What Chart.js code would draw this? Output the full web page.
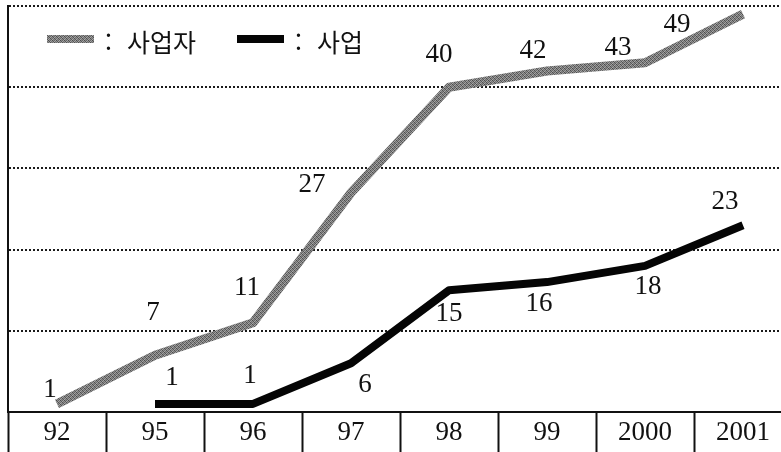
<!DOCTYPE html>
<html lang="ko">
<head>
<meta charset="utf-8">
<title>사업자 · 사업 추이</title>
<script src="https://cdn.jsdelivr.net/npm/chart.js@4/dist/chart.umd.min.js"></script>
<style>
  html, body { margin: 0; padding: 0; background: #fff; overflow: hidden; }
  #wrap { position: relative; width: 792px; height: 452px; }
</style>
</head>
<body>
<div id="wrap"><canvas id="c"></canvas></div>
<script>
// Years on the horizontal axis
const years = ['92', '95', '96', '97', '98', '99', '2000', '2001'];
// Number of operators (사업자) per year
const operators = [1, 7, 11, 27, 40, 42, 43, 49];
// Number of projects (사업) per year; none recorded for 92
const projects = [null, 1, 1, 6, 15, 16, 18, 23];
// Series names shown in the key
const seriesNames = ['사업자', '사업'];
// Value axis range and grid step
const yMin = 0, yMax = 50, yStep = 10;

// Where each value label sits relative to its point (dx, dy in px)
const operatorLabelShift = [[-7, -14], [-2, -42], [-6, -35], [-39, -8], [-10, -32], [-14, -20], [-27, -15], [-66, 11]];
const projectLabelShift = [null, [17, -26], [-3, -28], [14, 22], [0, 24], [-8, 22], [3, 21], [-18, -23]];

const canvas = document.getElementById('c');
const ctx2d = canvas.getContext('2d');

// Grainy grey fill for the operator line
function grainyGrey() {
  const tile = document.createElement('canvas');
  tile.width = 4; tile.height = 4;
  const g = tile.getContext('2d');
  const tones = ['#4a4a4a', '#8a8a8a', '#666666', '#a4a4a4',
                 '#929292', '#555555', '#a8a8a8', '#707070',
                 '#6c6c6c', '#a0a0a0', '#505050', '#8e8e8e',
                 '#aaaaaa', '#747474', '#888888', '#585858'];
  tones.forEach((t, i) => { g.fillStyle = t; g.fillRect(i % 4, Math.floor(i / 4), 1, 1); });
  return ctx2d.createPattern(tile, 'repeat');
}
const greyFill = grainyGrey();

const numFont = '27px "Liberation Serif", "DejaVu Serif", serif';
const krFont = '25px "Noto Sans CJK KR", "Noto Sans", sans-serif';

// Value labels next to each point
const valueLabels = {
  id: 'valueLabels',
  afterDatasetsDraw(chart) {
    const ctx = chart.ctx;
    ctx.save();
    ctx.font = numFont;
    ctx.fillStyle = '#111';
    ctx.textAlign = 'center';
    ctx.textBaseline = 'middle';
    chart.data.datasets.forEach((ds, di) => {
      const shifts = di === 0 ? operatorLabelShift : projectLabelShift;
      chart.getDatasetMeta(di).data.forEach((pt, i) => {
        const v = ds.data[i];
        if (v === null || v === undefined || !shifts[i]) return;
        ctx.fillText(String(v), pt.x + shifts[i][0], pt.y + shifts[i][1]);
      });
    });
    ctx.restore();
  }
};

// Key drawn inside the plot, top-left
const insideKey = {
  id: 'insideKey',
  afterDraw(chart) {
    const ctx = chart.ctx;
    const startX = [47, 237];
    const swatchW = 47, swatchH = 8, midY = 39;
    ctx.save();
    chart.data.datasets.forEach((ds, i) => {
      const x = startX[i];
      ctx.fillStyle = ds.borderColor;
      ctx.fillRect(x, midY - swatchH / 2, swatchW, swatchH);
      ctx.fillStyle = '#111';
      ctx.font = krFont;
      ctx.textBaseline = 'middle';
      ctx.textAlign = 'left';
      ctx.fillText(':', x + swatchW + 11, midY + 3);
      ctx.fillText(ds.label, x + swatchW + 33, midY + 3);
    });
    ctx.restore();
  }
};

new Chart(canvas, {
  type: 'line',
  data: {
    labels: years,
    datasets: [
      {
        label: seriesNames[0],
        data: operators,
        borderColor: greyFill,
        borderWidth: 9,
        borderJoinStyle: 'round',
        pointRadius: 0,
        tension: 0,
        fill: false
      },
      {
        label: seriesNames[1],
        data: projects,
        borderColor: '#050505',
        borderWidth: 8,
        borderJoinStyle: 'round',
        pointRadius: 0,
        tension: 0,
        fill: false
      }
    ]
  },
  options: {
    responsive: true,
    maintainAspectRatio: false,
    animation: false,
    layout: { padding: { left: 8, top: 6, right: 0, bottom: 0 } },
    plugins: {
      legend: { display: false },
      tooltip: { enabled: false }
    },
    scales: {
      x: {
        offset: true,
        grid: {
          offset: true,
          drawOnChartArea: false,
          drawTicks: true,
          tickLength: 40,
          tickWidth: 2,
          tickColor: '#111',
          tickBorderDash: [],
          color: '#111'
        },
        border: { display: true, color: '#111', width: 2 },
        ticks: {
          font: { family: '"Liberation Serif", "DejaVu Serif", serif', size: 27 },
          color: '#111',
          padding: -35,
          maxRotation: 0,
          autoSkip: false
        },
        afterFit(scale) { scale.height = 40; }
      },
      y: {
        min: yMin,
        max: yMax,
        ticks: { display: false, stepSize: yStep },
        grid: {
          drawTicks: false,
          lineWidth: 2,
          color: (c) => (c.tick && c.tick.value === yMin ? 'rgba(0,0,0,0)' : '#1a1a1a')
        },
        // dotted guides; the axis line itself stays solid
        border: { display: true, color: '#111', width: 2, dash: [2, 2] },
        afterFit(scale) { scale.width = 0; }
      }
    }
  },
  plugins: [valueLabels, insideKey]
});
</script>
</body>
</html>
